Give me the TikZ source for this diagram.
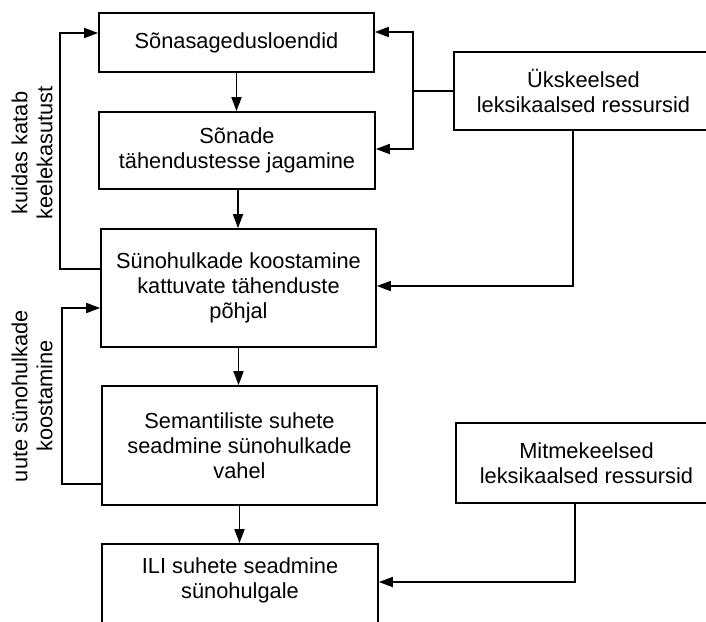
\documentclass[tikz,border=0pt]{standalone}
\usepackage{fontspec}
\setmainfont{Liberation Sans}
\usetikzlibrary{arrows.meta}
\begin{document}
\begin{tikzpicture}[x=1pt,y=-1pt,
  txt/.style={font=\fontsize{21.8}{25}\selectfont, align=center, inner sep=0pt},
  box/.style={txt, draw, line width=1.7pt},
  link/.style={line width=1.7pt},
  arr/.style={link, -{Triangle[length=14pt,width=10pt]}}]
\useasboundingbox (0,0) rectangle (706,621);
\fill[white] (0,0) rectangle (706,621);
\begin{scope}
\clip (0,0) rectangle (706,621);
% main chain of steps
\node[box, minimum width=275pt, minimum height=59pt]  (A) at (236.5,42.5) {Sõnasagedusloendid};
\node[box, minimum width=276pt, minimum height=77pt]  (B) at (237,150.5) {Sõnade\\tähendustesse jagamine};
\node[box, minimum width=275pt, minimum height=118pt] (C) at (238.5,288) {Sünohulkade koostamine\\kattuvate tähenduste\\põhjal};
\node[box, minimum width=275pt, minimum height=119pt] (D) at (239.5,445.5) {Semantiliste suhete\\seadmine sünohulkade\\vahel};
\node[box, minimum width=276pt, minimum height=106pt] (E) at (240,597) {};
\node[txt] (Et) at (240,580) {ILI suhete seadmine\\sünohulgale};
% resources
\node[box, minimum width=259pt, minimum height=78pt] (U) at (583.5,91) {Ükskeelsed\\leksikaalsed ressursid};
\node[box, minimum width=261pt, minimum height=80pt] (M) at (586.5,463) {Mitmekeelsed\\leksikaalsed ressursid};
% side labels
\node[txt, rotate=90] (L1) at (32,153) {kuidas katab\\keelekasutust};
\node[txt, rotate=90] (L2) at (32,396) {uute sünohulkade\\koostamine};
% flow downwards
\draw[arr] (A.south) -- (A.south |- B.north);
\draw[arr] ([xshift=1pt]B.south) -- ([xshift=1pt]B.south |- C.north);
\draw[arr] (C.south) -- (C.south |- D.north);
\draw[arr] (D.south) -- (D.south |- E.north);
% feedback loops on the left
\draw[arr] ([yshift=19pt]C.west) -- ++(-40pt,0) |- ([yshift=9.5pt]A.west);
\draw[arr] ([yshift=-38.5pt]D.west) -- ++(-39pt,0) |- ([yshift=-20pt]C.west);
% monolingual resources feed
\coordinate (bus) at ([xshift=-40pt]U.west);
\draw[link] (U.west) -- (bus);
\draw[arr] (bus) |- ([yshift=10.5pt]A.east);
\draw[arr] (bus) |- ([yshift=1.5pt]B.east);
\draw[arr] ([xshift=-10.5pt]U.south) |- ([yshift=2pt]C.east);
% multilingual resources feed
\draw[arr] ([xshift=-11.5pt]M.south) |- ([yshift=15pt]E.east);
\end{scope}
\end{tikzpicture}
\end{document}
